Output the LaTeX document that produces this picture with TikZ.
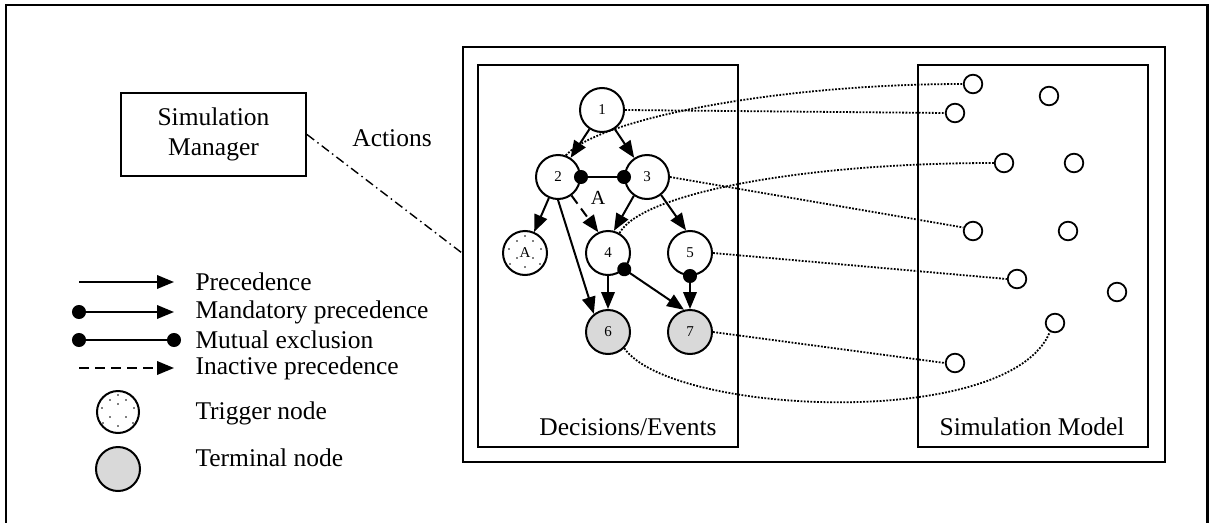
\documentclass[tikz,border=0pt]{standalone}
\usepackage{fontspec}
\setmainfont{Liberation Serif}
\usetikzlibrary{arrows.meta}
\definecolor{termgray}{RGB}{217,217,217}

\begin{document}
\begin{tikzpicture}[x=1pt,y=-1pt,
  lbl/.style={font=\fontsize{25.5}{30}\selectfont},
  box/.style={draw, line width=2pt, inner sep=0pt},
  ev/.style={circle, draw, line width=2pt, minimum size=44pt, inner sep=0pt,
    font=\fontsize{15}{15}\selectfont},
  term/.style={ev, fill=termgray},
  smc/.style={circle, draw, line width=1.8pt, minimum size=18.6pt, inner sep=0pt},
  prec/.style={line width=2pt, -{Triangle[length=17pt,width=13.5pt]}},
  mand/.style={line width=2pt, {Circle[length=14pt]}-{Triangle[length=17pt,width=13.5pt]},
    shorten <=-7pt},
  mutex/.style={line width=2pt, {Circle[length=14pt]}-{Circle[length=14pt]},
    shorten <=-7pt, shorten >=-7pt},
  inact/.style={prec, dash pattern=on 10pt off 6pt},
  link/.style={line width=1.8pt, dash pattern=on 1.8pt off 1.5pt},
  speckle/.pic={\foreach \dx/\dy in {-8/-12,0/-17,8/-12,-16/-4,16/-4,-8/5,8/5,-15/11,15/11,0/14}
    {\fill (\dx,\dy) circle (0.9pt);}}
]
\useasboundingbox (0,0) rectangle (1209,522);
\clip (0,0) rectangle (1209,522);

% page frame
\draw[line width=2.5pt] (6,540) -- (6,5) -- (1207.5,5) -- (1207.5,540);

% simulation manager and the action link
\node[box, lbl, align=center, minimum width=185pt, minimum height=83pt] (mgr) at (213.5,134.5) {Simulation\\Manager};
\node[lbl] (act) at (392,138) {Actions};

% system boxes
\node[box, minimum width=702pt, minimum height=415pt] (sys) at (814,254.5) {};
\node[box, minimum width=260pt, minimum height=382pt] (dec) at (608,256) {};
\node[box, minimum width=230pt, minimum height=382pt] (mdl) at (1033,256) {};
\node[lbl] (dect) at (628,427) {Decisions/Events};
\node[lbl] (mdlt) at (1032,427) {Simulation Model};
\coordinate (sysin) at (462,253);
\draw[line width=1.4pt, dash pattern=on 9pt off 4pt on 1.5pt off 4pt] (mgr.east) -- (sysin);

% decision/event graph
\node[ev] (n1) at (602,110) {1};
\node[ev] (n2) at (558,177) {2};
\node[ev] (n3) at (647,177) {3};
\node[ev] (nA) at (525,253) {A};
\pic at (525,253) {speckle};
\node[ev] (n4) at (608,253) {4};
\node[ev] (n5) at (690,253) {5};
\node[term] (n6) at (608,332) {6};
\node[term] (n7) at (690,332) {7};

\draw[prec] (n1) -- (n2);
\draw[prec] (n1) -- (n3);
\draw[mutex] (n2) -- (n3);
\draw[prec] (n2) -- (nA);
\draw[prec] (n2.south) -- (n6.128);
\draw[inact] (n2) -- (n4.115);
\node[font=\fontsize{20}{20}\selectfont] (lA) at (598,198) {A};
\draw[prec] (n3.235) -- (n4.75);
\draw[prec] (n3.-52) -- (n5.100);
\draw[prec] (n4) -- (n6);
\draw[mand] (n4.-45) -- (n7.105);
\draw[mand] (n5) -- (n7);

% simulation model elements
\node[smc] (s1) at (973,84) {};
\node[smc] (s2) at (1049,96) {};
\node[smc] (s3) at (955,113) {};
\node[smc] (s4) at (1004,163) {};
\node[smc] (s5) at (1074,163) {};
\node[smc] (s6) at (973,231) {};
\node[smc] (s7) at (1068,231) {};
\node[smc] (s8) at (1017,279) {};
\node[smc] (s9) at (1117,292) {};
\node[smc] (s10) at (1055,323) {};
\node[smc] (s11) at (955,363) {};

% mapping of decisions/events onto the model
\draw[link] (n1.east) -- (s3.west);
\draw[link] (n2.70) .. controls +(33,-37) and +(-184,0) .. (s1.west);
\draw[link] (n3.east) -- (s6.160);
\draw[link] (n4.60) .. controls +(21,-39) and +(-195,0) .. (s4.west);
\draw[link] (n5.east) -- (s8.west);
\draw[link] (n7.east) -- (s11.west);
\draw[link] (n6.-45) .. controls +(47,67) and +(-40,99) .. (s10.240);

% legend
\coordinate (g1a) at (79,282);  \coordinate (g1b) at (174,282);
\coordinate (g2a) at (79,312);  \coordinate (g2b) at (174,312);
\coordinate (g3a) at (79,340);  \coordinate (g3b) at (174,340);
\coordinate (g4a) at (79,368);  \coordinate (g4b) at (174,368);
\draw[prec] (g1a) -- (g1b);
\draw[mand] (g2a) -- (g2b);
\draw[mutex] (g3a) -- (g3b);
\draw[inact] (g4a) -- (g4b);
\node[lbl, anchor=west] (t1) at (192,282) {Precedence};
\node[lbl, anchor=west] (t2) at (192,312) {Mandatory precedence};
\node[lbl, anchor=west] (t3) at (192,340) {Mutual exclusion};
\node[lbl, anchor=west] (t4) at (192,368) {Inactive precedence};
\node[ev, minimum size=42pt] (gtr) at (118,412) {};
\pic at (118,412) {speckle};
\fill (118,404) circle (0.9pt);
\node[term] (gte) at (118,469) {};
\node[lbl, anchor=west] (t5) at (192,413) {Trigger node};
\node[lbl, anchor=west] (t6) at (192,458) {Terminal node};
\end{tikzpicture}
\end{document}
